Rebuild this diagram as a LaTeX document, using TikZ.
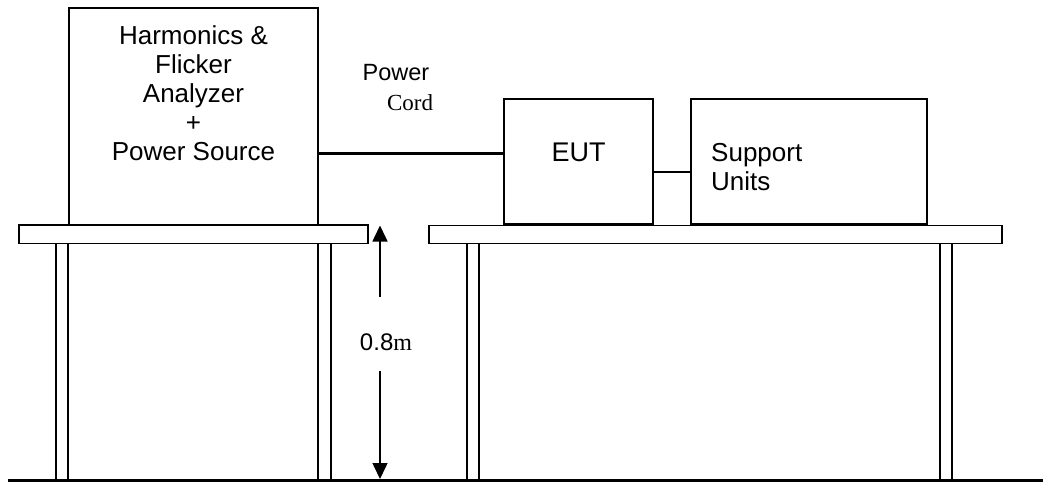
\documentclass[tikz,border=0pt]{standalone}
\usepackage{fontspec}
\setmainfont{Liberation Sans}
\newfontfamily\serifA{Liberation Serif}
\usetikzlibrary{arrows.meta}
\begin{document}
\begin{tikzpicture}[x=1pt,y=-1pt,
  equip/.style={draw,line width=1.7pt,fill=white,inner sep=0pt,outer sep=0pt},
  tabletop/.style={draw,line width=1.7pt,fill=white},
  tableleg/.style={draw,line width=1.4pt,fill=white},
  cable/.style={line width=3pt},
  dimarrow/.style={line width=1.5pt,-{Triangle[length=16pt,width=15pt]}},
  lbl/.style={font=\fontsize{26}{29}\selectfont,inner sep=0pt,align=center}
]
\useasboundingbox (0,0) rectangle (1043,483);
% legs
\node[tableleg,inner sep=0pt,minimum width=12pt,minimum height=236.5pt] (leg1) at (62,362) {};
\node[tableleg,inner sep=0pt,minimum width=13pt,minimum height=236.5pt] (leg2) at (324.5,362) {};
\node[tableleg,inner sep=0pt,minimum width=12pt,minimum height=236.5pt] (leg3) at (473,362) {};
\node[tableleg,inner sep=0pt,minimum width=12pt,minimum height=236.5pt] (leg4) at (946,362) {};
% table tops
\node[tabletop,inner sep=0pt,minimum width=349pt,minimum height=18.5pt] (top1) at (193.5,234.2) {};
\node[tabletop,inner sep=0pt,minimum width=573pt,minimum height=18pt] (top2) at (715.5,234.5) {};
% floor
\coordinate (fl) at (8,480.5);
\coordinate (fr) at (1043,480.5);
\draw[line width=3.8pt] (fl) -- (fr);
% equipment
\node[equip,minimum width=249pt,minimum height=217pt] (analyzer) at (193.5,116.5) {};
\node[lbl] (antext) at (193.5,93) {Harmonics \&\\Flicker\\Analyzer\\+\\Power Source};
\node[equip,minimum width=149pt,minimum height=125pt] (eut) at (578.5,161.5) {};
\node[lbl,font=\fontsize{27}{30}\selectfont] (euttext) at (578.5,152) {EUT};
\node[equip,minimum width=236pt,minimum height=125pt] (support) at (809,161.5) {};
\node[lbl,align=left,anchor=west] (suptext) at (711,167.5) {Support\\Units};
% cables
\draw[cable] (analyzer.east |- 0,153) -- (eut.west |- 0,153);
\draw[line width=2.6pt] (eut.east |- 0,172) -- (support.west |- 0,172);
\node[font=\fontsize{23.5}{26}\selectfont,inner sep=0pt] (pw) at (396,73) {Power};
\node[font=\serifA\fontsize{23}{26}\selectfont,inner sep=0pt] (cord) at (410,103) {Cord};
% height dimension
\coordinate (htop) at (380,225.5);
\coordinate (hbot) at (380,479);
\coordinate (hu) at (380,297);
\coordinate (hd) at (380,371);
\node[inner sep=0pt,font=\fontsize{24}{26}\selectfont] (hl) at (386,342) {0.8{\serifA m}};
\draw[dimarrow] (hu) -- (htop);
\draw[dimarrow] (hd) -- (hbot);
\end{tikzpicture}
\end{document}
